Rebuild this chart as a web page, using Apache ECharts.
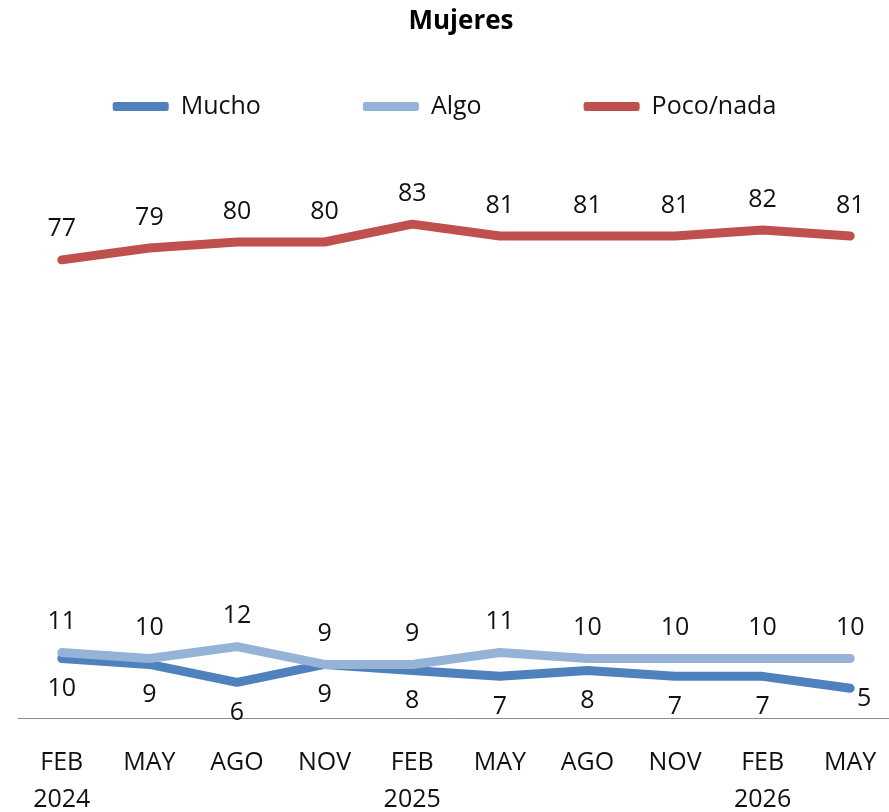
<!DOCTYPE html>
<html>
<head>
<meta charset="utf-8">
<script src="https://cdn.jsdelivr.net/npm/echarts@6/dist/echarts.min.js"></script>
<style>
    html, body { margin: 0; padding: 0; background: #fff; }
    #chart { width: 889px; height: 812px; }
</style>
</head>
<body>
<div id="chart"></div>
<script>
    var categories = ['FEB\n2024', 'MAY', 'AGO', 'NOV', 'FEB\n2025', 'MAY', 'AGO', 'NOV', 'FEB\n2026', 'MAY']
    var mucho = [10, 9, 6, 9, 8, 7, 8, 7, 7, 5]
    var algo = [11, 10, 12, 9, 9, 11, 10, 10, 10, 10]
    var pocoNada = [77, 79, 80, 80, 83, 81, 81, 81, 82, 81]

    var font = '"Open Sans", "Noto Sans", sans-serif'

    function makeSeries(name, data, color, labelPos) {
        return {
            name: name,
            type: 'line',
            data: data,
            symbol: 'circle',
            symbolSize: 0,
            showSymbol: true,
            lineStyle: { width: 9, color: color, cap: 'round', join: 'round' },
            itemStyle: { color: color },
            label: {
                show: true,
                position: labelPos,
                distance: 18,
                fontFamily: font,
                fontSize: 25,
                color: '#111'
            },
            z: name === 'Algo' ? 3 : 2
        }
    }

    var chart = echarts.init(document.getElementById('chart'))
    var muchoSeries = makeSeries('Mucho', mucho, '#4F81BD', 'bottom')
    // la última etiqueta queda desplazada a la derecha, como en el original
    muchoSeries.data = mucho.map(function (v, i) {
        if (i === mucho.length - 1) {
            return { value: v, label: { offset: [14, -20] } }
        }
        return v
    })

    chart.setOption({
        backgroundColor: '#fff',
        animation: false,
        title: {
            text: 'Mujeres',
            left: 456,
            textAlign: 'center',
            top: 4,
            textStyle: { fontFamily: font, fontSize: 26, fontWeight: 'bold', color: '#000' }
        },
        legend: {
            top: 89,
            left: 'center',
            icon: 'roundRect',
            itemWidth: 56,
            itemHeight: 9,
            itemGap: 102,
            textStyle: { fontFamily: font, fontSize: 25, color: '#111', padding: [0, 0, 0, 7] },
            data: ['Mucho', 'Algo', 'Poco/nada']
        },
        grid: {
            left: 18,
            right: -5,
            top: 123,
            bottom: 94,
            containLabel: false,
            outerBoundsMode: 'none'
        },
        xAxis: {
            type: 'category',
            data: categories,
            boundaryGap: true,
            axisLine: { lineStyle: { color: '#8c8c8c', width: 1 } },
            axisTick: { show: false },
            axisLabel: {
                fontFamily: font,
                fontSize: 25,
                color: '#111',
                margin: 26,
                lineHeight: 37,
                interval: 0
            }
        },
        yAxis: {
            type: 'value',
            min: 0,
            max: 100,
            show: false,
            splitLine: { show: false }
        },
        series: [
            muchoSeries,
            makeSeries('Algo', algo, '#95B3D7', 'top'),
            makeSeries('Poco/nada', pocoNada, '#C0504D', 'top')
        ]
    })
</script>
</body>
</html>
